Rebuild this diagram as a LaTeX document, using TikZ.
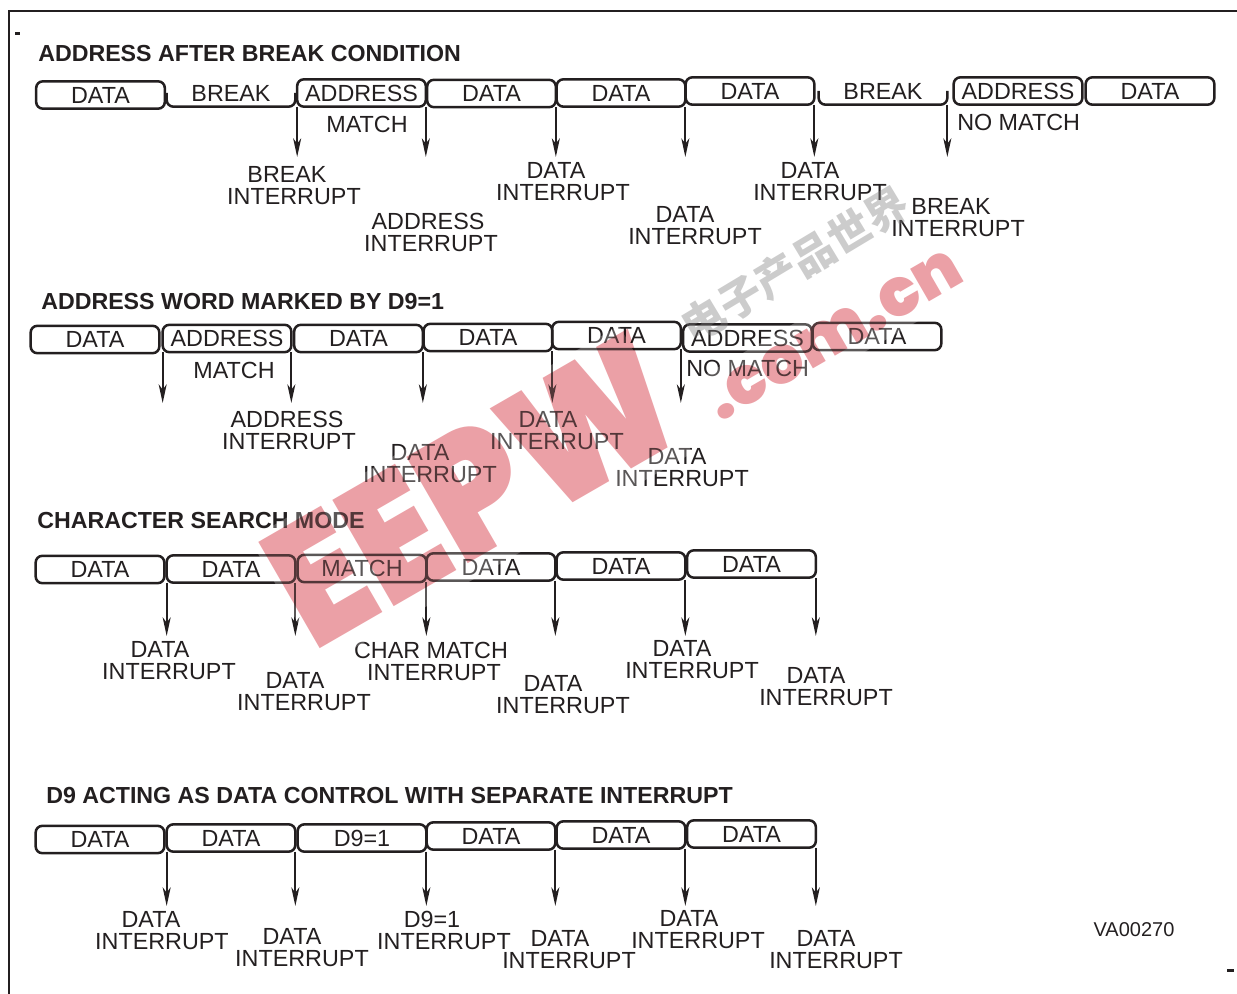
\documentclass[tikz,border=0pt]{standalone}
\usepackage{fontspec}
\setmainfont{Liberation Sans}
\newfontfamily\cjkfont{Noto Sans CJK SC}
\newfontfamily\stampfont{Poppins Black}
\usetikzlibrary{arrows.meta,positioning}
\definecolor{ink}{HTML}{231F20}
\definecolor{stamp}{HTML}{EBA0A6}
\tikzset{
  framebox/.style={draw=ink,line width=1.9pt,rounded corners=5pt,minimum width=96.5pt,minimum height=20.5pt,inner sep=0pt,outer sep=0pt,font=\fontsize{17.5}{17.5}\selectfont,text=ink},
  breakbox/.style={minimum width=96.5pt,minimum height=20.5pt,inner sep=0pt,outer sep=0pt,font=\fontsize{17.5}{17.5}\selectfont,text=ink},
  breakline/.style={draw=ink,line width=1.9pt,rounded corners=5pt},
  irq/.style={draw=ink,line width=1.5pt,-{Stealth[length=14pt,width=6pt,inset=4pt]}},
  lbl/.style={font=\fontsize{17.5}{17.5}\selectfont,text=ink,inner sep=0pt},
  heading/.style={font=\bfseries\fontsize{17.4}{18}\selectfont,text=ink,anchor=west,inner sep=0pt},
  haze/.style={fill=white,fill opacity=.25,rotate=30,inner sep=0pt},
  stamptext/.style={text=stamp,font=\stampfont,rotate=30,inner sep=0pt},
}
\begin{document}
\begin{tikzpicture}[x=0.75pt,y=-0.75pt]
  \useasboundingbox (0,0) rectangle (1237,994);

  % Outer frame
  \draw[ink,line width=2.2pt] (1237,11) -- (9,11) -- (9,994);
  \fill[ink] (15,32) rectangle (20,35);
  \fill[ink] (1227,969) rectangle (1234,972);

  % Row 1
  \node[heading] (title1) at (38,54) {ADDRESS AFTER BREAK CONDITION};
  \foreach \nm/\txt/\x/\y in {a1/DATA/100.5/95,a3/ADDRESS/361.5/93,a4/DATA/491.5/93.5,a5/DATA/621/93,a6/DATA/750/91,a8/ADDRESS/1018/91,a9/DATA/1150/91}
    \node[framebox] (\nm) at (\x,\y) {\txt};
  \node[breakbox] (a2) at (231,93) {BREAK};
  \node[breakbox] (a7) at (883,91) {BREAK};
  \draw[breakline] (a2.west) -- (a2.south west) -- (a2.south east) -- (a2.east);
  \draw[breakline] (a7.west) -- (a7.south west) -- (a7.south east) -- (a7.east);
  \node[lbl] (m1) at (367,124) {MATCH};
  \node[lbl,anchor=west] (m2) at (957,122) {NO MATCH};
  \coordinate (tipa) at (0,157);
  \foreach \from in {a3.south west,a3.south east,a4.south east,a5.south east,a6.south east,a7.south east}
    \draw[irq] (\from) -- (\from |- tipa);

  % Row 2
  \node[heading] (title2) at (41,302) {ADDRESS WORD MARKED BY D9=1};
  \foreach \nm/\txt/\x/\y in {b1/DATA/95/339.5,b2/ADDRESS/227/338.5,b3/DATA/358.5/338.5,b4/DATA/488/337.5,b5/DATA/616.5/335.5,b6/ADDRESS/747.5/338,b7/DATA/877/336.5}
    \node[framebox] (\nm) at (\x,\y) {\txt};
  \node[lbl] (m3) at (234,370) {MATCH};
  \node[lbl,anchor=west] (m4) at (686,368) {NO MATCH};
  \coordinate (tipb) at (0,403);
  \foreach \from in {b2.south west,b2.south east,b3.south east,b4.south east,b5.south east}
    \draw[irq] (\from) -- (\from |- tipb);

  % Row 3
  \node[heading] (title3) at (37,521) {CHARACTER SEARCH MODE};
  \foreach \nm/\txt/\x/\y in {c1/DATA/100/569.5,c2/DATA/231/569,c3/MATCH/362/568.5,c4/DATA/491/567,c5/DATA/621/566,c6/DATA/751.5/564}
    \node[framebox] (\nm) at (\x,\y) {\txt};
  \coordinate (tipc) at (0,636);
  \foreach \from in {c2.south west,c2.south east,c3.south east,c4.south east,c5.south east,c6.south east}
    \draw[irq] (\from) -- (\from |- tipc);

  % Row 4
  \node[heading] (title4) at (46,796) {D9 ACTING AS DATA CONTROL WITH SEPARATE INTERRUPT};
  \foreach \nm/\txt/\x/\y in {d1/DATA/100/839.5,d2/DATA/231/838,d3/D9=1/362/838,d4/DATA/491/836,d5/DATA/621/835,d6/DATA/751.5/834}
    \node[framebox] (\nm) at (\x,\y) {\txt};
  \coordinate (tipd) at (0,906);
  \foreach \from in {d2.south west,d2.south east,d3.south east,d4.south east,d5.south east,d6.south east}
    \draw[irq] (\from) -- (\from |- tipd);

  % Interrupt labels
  \foreach \nm/\txt/\x/\xb/\y in {
    ia1/BREAK/287/294/174,ia2/ADDRESS/428/431/221,ia3/DATA/556/563/170,ia4/DATA/685/695/214,ia5/DATA/810/820/170,ia6/BREAK/951/958/206,
    ib1/ADDRESS/287/289/419,ib2/DATA/420/430/452,ib3/DATA/548/557/419,ib4/DATA/677/682/456,
    ic1/DATA/160/169/649,ic2/DATA/295/304/680,ic3/CHAR MATCH/431/434/650,ic4/DATA/553/563/683,ic5/DATA/682/692/648,ic6/DATA/816/826/675,
    id1/DATA/151/162/919,id2/DATA/292/302/936,id3/D9=1/432/444/919,id4/DATA/560/569/938,id5/DATA/689/698/918,id6/DATA/826/836/938}{
    \node[lbl] (\nm) at (\x,\y) {\txt};
    \node[lbl] (\nm i) at (\xb,\y+23) {INTERRUPT};
  }
  \node[lbl,font=\fontsize{15}{15}\selectfont] (code) at (1134,930) {VA00270};

  % Stamp
  \node[haze,minimum width=320pt,minimum height=110pt] (eepwhaze) at (471,496) {};
  \node[haze,minimum width=225pt,minimum height=45pt] (dothaze) at (834,335) {};
  \begin{scope}[blend mode=multiply]
    \node[stamptext,font=\stampfont\fontsize{130}{130}\selectfont,xscale=.885] (eepw) at (473,490) {EEPW};
    \node[stamptext,font=\stampfont\fontsize{50}{50}\selectfont] (dotcom) at (834,335) {.com.cn};
  \end{scope}
  \node[text=gray,text opacity=.4,font=\cjkfont\bfseries\fontsize{32}{32}\selectfont,rotate=31,inner sep=0pt] (cjk) at (795,265) {电子产品世界};
\end{tikzpicture}
\end{document}
